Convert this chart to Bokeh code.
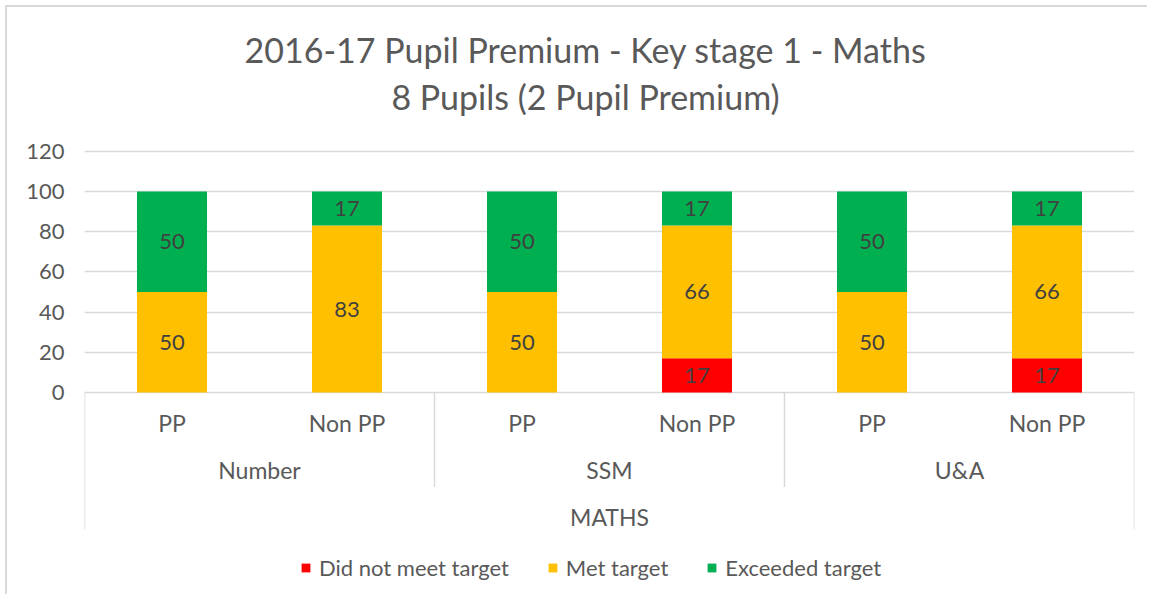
from bokeh.plotting import figure
from bokeh.models import Range1d, FixedTicker, Legend, LegendItem, ColumnDataSource
from bokeh.core.properties import value
from bokeh.embed import file_html
from bokeh.resources import INLINE

# ---- data ----
title_lines = ["2016-17 Pupil Premium - Key stage 1 - Maths", "8 Pupils (2 Pupil Premium)"]
top_label = "MATHS"
groups = ["Number", "SSM", "U&A"]
subgroups = ["PP", "Non PP"]
series = ["Did not meet target", "Met target", "Exceeded target"]
did_not_meet = [0, 0, 0, 17, 0, 17]
met = [50, 83, 50, 66, 50, 66]
exceeded = [50, 17, 50, 17, 50, 17]
colors = ["#FF0000", "#FFC000", "#00B050"]
y_ticks = [0, 20, 40, 60, 80, 100, 120]

FONT = "Lato"
TXT = "#595959"
LINE = "#d9d9d9"

n_sub = len(subgroups)
n_bars = len(groups) * n_sub
xs = [i + 0.5 for i in range(n_bars)]
sub_labels = [s for g in groups for s in subgroups]

src = ColumnDataSource(data={
    "x": xs,
    series[0]: did_not_meet,
    series[1]: met,
    series[2]: exceeded,
})

p = figure(width=1142, height=589,
           x_range=Range1d(0, n_bars), y_range=Range1d(-101.5, 191.5),
           output_backend="svg", toolbar_location=None,
           x_axis_location=None,
           min_border_left=77, min_border_right=15,
           min_border_top=0, min_border_bottom=0)
p.styles = {"border-left": "2px solid #d9d9d9", "border-top": "2px solid #d9d9d9",
            "margin-left": "5px", "margin-top": "5px"}
p.outline_line_color = None
p.xgrid.visible = False
p.ygrid.ticker = FixedTicker(ticks=y_ticks)
p.ygrid.grid_line_color = LINE
p.ygrid.grid_line_width = 1.5
p.yaxis.ticker = FixedTicker(ticks=y_ticks)
p.yaxis.axis_line_color = None
p.yaxis.major_tick_line_color = None
p.yaxis.minor_tick_line_color = None
p.yaxis.major_label_standoff = 14
p.yaxis.major_label_text_font = FONT
p.yaxis.major_label_text_font_size = "22px"
p.yaxis.major_label_text_color = TXT

rends = p.vbar_stack(series, x="x", width=0.4, color=colors, source=src, line_color=None)

# data labels
lx, ly, lt = [], [], []
for i in range(n_bars):
    base = 0
    for vals in (did_not_meet, met, exceeded):
        v = vals[i]
        if v:
            lx.append(xs[i]); ly.append(base + v / 2); lt.append(str(v))
        base += v
p.text(x=lx, y=ly, text=lt, text_font=value(FONT), text_font_size="22px",
       text_color="#404040", text_align="center", text_baseline="middle")

# category axis (multi-level)
p.text(x=xs, y=[-15] * n_bars, text=sub_labels, text_font=value(FONT), text_font_size="23px",
       text_color=TXT, text_align="center", text_baseline="middle")
gx = [g * n_sub + n_sub / 2 for g in range(len(groups))]
p.text(x=gx, y=[-38.5] * len(groups), text=groups, text_font=value(FONT), text_font_size="23px",
       text_color=TXT, text_align="center", text_baseline="middle")
p.text(x=[n_bars / 2], y=[-62], text=[top_label], text_font=value(FONT), text_font_size="23px",
       text_color=TXT, text_align="center", text_baseline="middle")
bx = [g * n_sub for g in range(len(groups) + 1)]
by = [-68 if (b == 0 or b == n_bars) else -47 for b in bx]
p.segment(x0=bx, y0=[0] * len(bx), x1=bx, y1=by, line_color=LINE, line_width=1.5)

# title
p.text(x=[2.863, 2.863], y=[170.6, 147.3], text=title_lines, text_font=value(FONT),
       text_font_size="34px", text_color=TXT, text_align="center", text_baseline="middle")

legend = Legend(items=[LegendItem(label=s, renderers=[r]) for s, r in zip(series, rends)],
                orientation="horizontal", location=(216, 15),
                border_line_color=None, background_fill_alpha=0,
                glyph_width=11, glyph_height=11, label_standoff=8, spacing=38,
                label_text_font=FONT, label_text_font_size="22px", label_text_color=TXT,
                padding=4, margin=0)
p.add_layout(legend)

open("out.html", "w").write(file_html(p, INLINE))
